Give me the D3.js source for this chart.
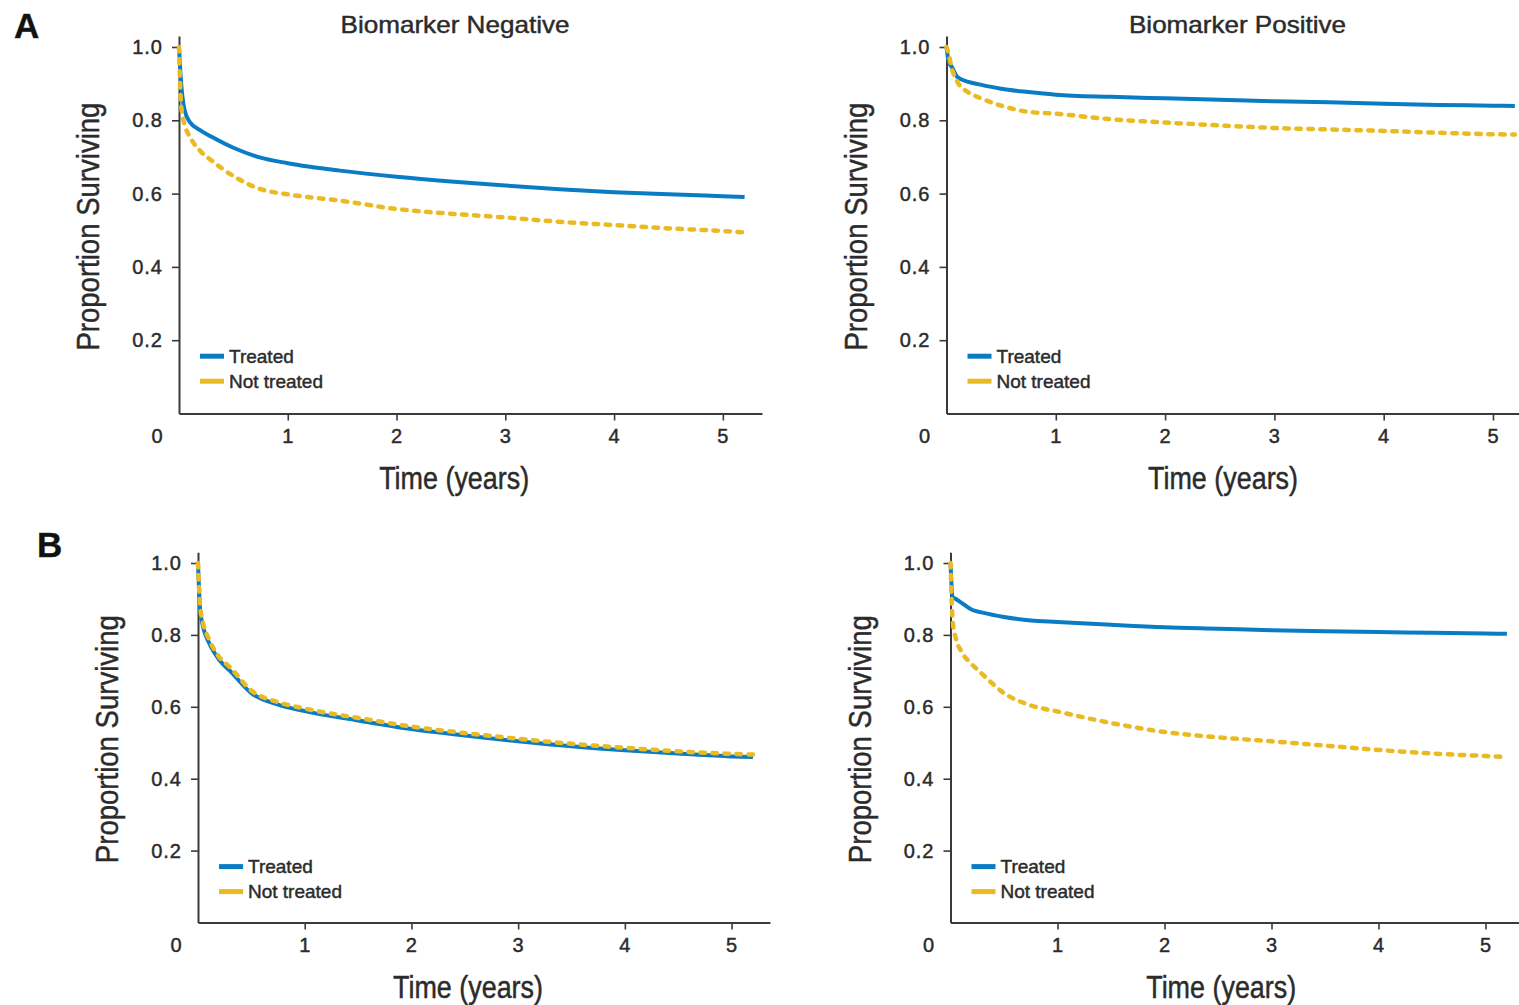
<!DOCTYPE html>
<html>
<head>
<meta charset="utf-8">
<script src="https://cdn.jsdelivr.net/npm/d3@7"></script>
<style>
  body { margin: 0; background: #fff; }
  svg { display: block; font-family: "Liberation Sans", Arial, sans-serif; }
  svg text { stroke: #2b2b2b; stroke-width: 0.45px; }
</style>
</head>
<body>
<div class="canvas"></div>
<script>
// time grid (years) shared by all curves
const times = [0, 0.02, 0.05, 0.1, 0.2, 0.3, 0.5, 0.75, 1, 1.5, 2, 2.5, 3, 3.5, 4, 4.5, 5, 5.2];

// A - biomarker negative
const negTreatedA = [1.0, 0.9, 0.83, 0.795, 0.772, 0.755, 0.725, 0.698, 0.683, 0.662, 0.646, 0.633, 0.622, 0.612, 0.604, 0.598, 0.593, 0.591];
const negNotTreatedA = [1.0, 0.84, 0.79, 0.755, 0.715, 0.69, 0.648, 0.612, 0.598, 0.58, 0.558, 0.545, 0.535, 0.523, 0.514, 0.505, 0.498, 0.494];
// A - biomarker positive
const posTreatedA = [1.0, 0.96, 0.945, 0.918, 0.905, 0.898, 0.886, 0.877, 0.87, 0.864, 0.86, 0.856, 0.852, 0.849, 0.845, 0.842, 0.84, 0.839];
const posNotTreatedA = [1.0, 0.98, 0.94, 0.905, 0.876, 0.862, 0.84, 0.823, 0.818, 0.803, 0.794, 0.786, 0.779, 0.775, 0.771, 0.766, 0.762, 0.761];
// B - left
const negTreatedB = [1.0, 0.87, 0.82, 0.78, 0.73, 0.7, 0.638, 0.606, 0.588, 0.562, 0.538, 0.52, 0.504, 0.49, 0.479, 0.47, 0.462, 0.46];
const negNotTreatedB = [1.0, 0.88, 0.83, 0.79, 0.738, 0.71, 0.645, 0.613, 0.595, 0.569, 0.545, 0.527, 0.511, 0.497, 0.486, 0.476, 0.469, 0.467];
// B - right
const posTreatedB = [1.0, 0.905, 0.9, 0.89, 0.87, 0.862, 0.85, 0.84, 0.836, 0.828, 0.821, 0.817, 0.813, 0.81, 0.808, 0.806, 0.804, 0.803];
const posNotTreatedB = [1.0, 0.84, 0.79, 0.755, 0.718, 0.69, 0.638, 0.604, 0.587, 0.555, 0.53, 0.515, 0.504, 0.492, 0.48, 0.47, 0.463, 0.46];

const xTicks = [1, 2, 3, 4, 5];
const yTicks = [0.2, 0.4, 0.6, 0.8, 1.0];
const legendLabels = ["Treated", "Not treated"];
const titles = ["Biomarker Negative", "Biomarker Positive"];

const colors = { treated: "#0a7cc4", notTreated: "#e9ba22", axis: "#3a3a3a", text: "#2b2b2b" };

const panels = [
  { treated: negTreatedA, notTreated: negNotTreatedA, xr: [179, 762], xmax: 5.36, y0: 413.5, unit: 366.5, title: titles[0], titleX: 455, letter: "A" },
  { treated: posTreatedA, notTreated: posNotTreatedA, xr: [946.5, 1536.7], xmax: 5.4, y0: 413.5, unit: 366.5, title: titles[1], titleX: 1237.5 },
  { treated: negTreatedB, notTreated: negNotTreatedB, xr: [198, 770], xmax: 5.36, y0: 922.5, unit: 359.5, letter: "B" },
  { treated: posTreatedB, notTreated: posNotTreatedB, xr: [950.5, 1528.3], xmax: 5.4, y0: 922.5, unit: 359.5 }
];

const letterPos = { A: [14, 38], B: [37, 557] };

const svg = d3
  .select(".canvas")
  .append("svg")
  .attr("width", 1519)
  .attr("height", 1005);

panels.forEach((p) => {
  const x = d3.scaleLinear().domain([0, p.xmax]).range(p.xr);
  const y = d3
    .scaleLinear()
    .domain([0, 1.03])
    .range([p.y0, p.y0 - 1.03 * p.unit]);

  const g = svg.append("g");

  // x axis
  const xAxis = g
    .append("g")
    .attr("transform", `translate(0, ${p.y0})`)
    .call(
      d3.axisBottom(x).tickValues(xTicks).tickSize(7).tickSizeOuter(0).tickPadding(8).tickFormat(d3.format("d"))
    );

  // y axis
  const yAxis = g
    .append("g")
    .attr("transform", `translate(${x(0)}, 0)`)
    .call(
      d3.axisLeft(y).tickValues(yTicks).tickSize(7).tickSizeOuter(0).tickPadding(9).tickFormat(d3.format(".1f"))
    );

  [xAxis, yAxis].forEach((ax) => {
    ax.select(".domain").attr("stroke", colors.axis).attr("stroke-width", 2);
    ax.selectAll(".tick line").attr("stroke", colors.axis).attr("stroke-width", 1.6);
    ax.selectAll(".tick text")
      .attr("fill", colors.text)
      .style("font-size", "20px")
      .style("letter-spacing", "1px");
  });

  // origin label sits left of the corner
  g.append("text")
    .attr("x", x(0) - 22)
    .attr("y", p.y0 + 29)
    .attr("text-anchor", "middle")
    .attr("fill", colors.text)
    .style("font-size", "20px")
    .text("0");

  // curves
  const line = d3
    .line()
    .x((d, i) => x(times[i]))
    .y((d) => y(d))
    .curve(d3.curveMonotoneX);

  g.append("path")
    .attr("d", line(p.treated))
    .attr("fill", "none")
    .attr("stroke", colors.treated)
    .attr("stroke-width", 4)
    .attr("stroke-linejoin", "round");

  g.append("path")
    .attr("d", line(p.notTreated))
    .attr("fill", "none")
    .attr("stroke", colors.notTreated)
    .attr("stroke-width", 4.5)
    .attr("stroke-linecap", "round")
    .attr("stroke-dasharray", "4.5 7.5");

  // legend
  const legend = g
    .append("g")
    .attr("transform", `translate(${x(0) + 21}, ${y(0.2) + 16})`);

  legendLabels.forEach((label, i) => {
    legend
      .append("line")
      .attr("x1", 0)
      .attr("x2", 24)
      .attr("y1", i * 25)
      .attr("y2", i * 25)
      .attr("stroke", i === 0 ? colors.treated : colors.notTreated)
      .attr("stroke-width", 5);
    legend
      .append("text")
      .attr("x", 29)
      .attr("y", i * 25)
      .attr("dy", "0.35em")
      .attr("fill", colors.text)
      .style("font-size", "19px")
      .text(label);
  });

  // axis titles
  g.append("text")
    .attr("x", x(2.53))
    .attr("y", p.y0 + 75)
    .attr("text-anchor", "middle")
    .attr("fill", colors.text)
    .attr("textLength", 150)
    .attr("lengthAdjust", "spacingAndGlyphs")
    .style("font-size", "31px")
    .text("Time (years)");

  g.append("text")
    .attr("transform", `translate(${x(0) - 80}, ${y(0.51)}) rotate(-90)`)
    .attr("text-anchor", "middle")
    .attr("fill", colors.text)
    .attr("textLength", 248)
    .attr("lengthAdjust", "spacingAndGlyphs")
    .style("font-size", "31px")
    .text("Proportion Surviving");

  if (p.title) {
    g.append("text")
      .attr("x", p.titleX)
      .attr("y", 33)
      .attr("text-anchor", "middle")
      .attr("fill", colors.text)
      .attr("textLength", p.title === titles[0] ? 229 : 217)
      .attr("lengthAdjust", "spacingAndGlyphs")
      .style("font-size", "24px")
      .text(p.title);
  }

  if (p.letter) {
    svg
      .append("text")
      .attr("x", letterPos[p.letter][0])
      .attr("y", letterPos[p.letter][1])
      .attr("fill", "#111")
      .style("font-size", "35px")
      .style("font-weight", "bold")
      .text(p.letter);
  }
});
</script>
</body>
</html>
